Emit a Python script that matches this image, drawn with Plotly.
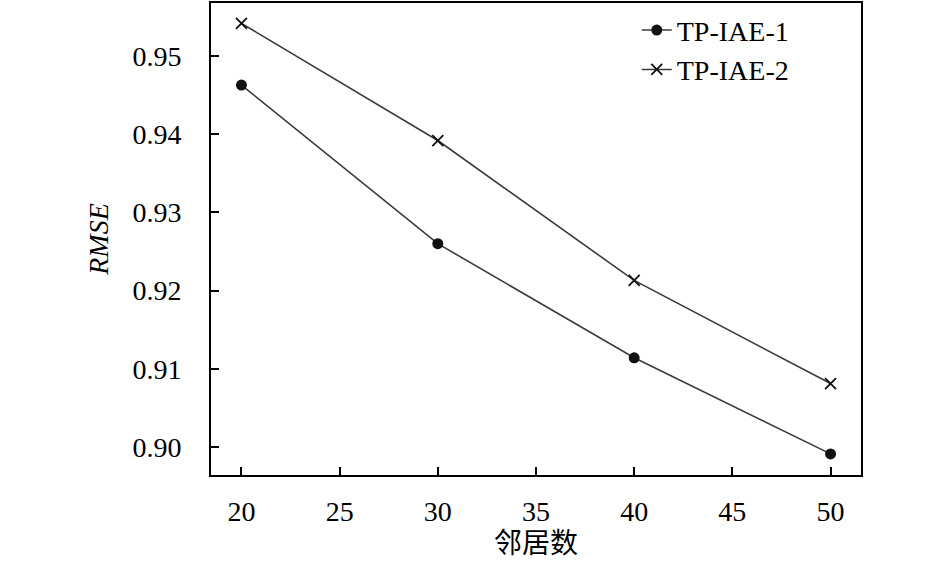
import plotly.graph_objects as go

# neighbour counts and RMSE values
neighbors = [20, 30, 40, 50]
rmse_iae1 = [0.9463, 0.9260, 0.9114, 0.8991]
rmse_iae2 = [0.9542, 0.9392, 0.9213, 0.9081]

x_ticks = [20, 25, 30, 35, 40, 45, 50]
y_ticks = [0.90, 0.91, 0.92, 0.93, 0.94, 0.95]
y_labels = ["0.90", "0.91", "0.92", "0.93", "0.94", "0.95"]

SERIF = "Liberation Serif, Tinos, DejaVu Serif"
LINE = "#3a3a44"

fig = go.Figure()

fig.add_trace(go.Scatter(
    x=neighbors, y=rmse_iae1,
    mode="lines+markers",
    name="TP-IAE-1",
    line=dict(color=LINE, width=1.6),
    marker=dict(symbol="circle", size=11, color="#111111"),
))

fig.add_trace(go.Scatter(
    x=neighbors, y=rmse_iae2,
    mode="lines+markers",
    name="TP-IAE-2",
    line=dict(color=LINE, width=1.6),
    marker=dict(symbol="x-thin", size=11, color="#111111",
                line=dict(color="#111111", width=1.8)),
))

axis_common = dict(
    showgrid=False,
    zeroline=False,
    showline=True,
    linecolor="black",
    linewidth=2,
    mirror=True,
    ticks="inside",
    ticklen=8,
    tickwidth=1.5,
    tickcolor="black",
    automargin=False,
    tickfont=dict(family=SERIF, size=28, color="black"),
)

fig.update_xaxes(
    range=[18.45, 51.55],
    tickvals=x_ticks,
    ticklabelstandoff=10,
    title=dict(text="邻居数",
               font=dict(family=SERIF + ", Noto Sans CJK SC", size=28, color="black"),
               standoff=8),
    **axis_common,
)

fig.update_yaxes(
    range=[0.8964, 0.9568],
    tickvals=y_ticks,
    ticktext=y_labels,
    ticklabelstandoff=22,
    title=dict(text="<i>RMSE</i>", font=dict(family=SERIF, size=28, color="black"),
               standoff=16),
    **axis_common,
)

fig.update_layout(
    width=945,
    height=566,
    margin=dict(l=211, r=84, t=3, b=91),
    paper_bgcolor="white",
    plot_bgcolor="white",
    showlegend=True,
    legend=dict(
        x=0.655, y=0.995,
        xanchor="left", yanchor="top",
        bgcolor="rgba(0,0,0,0)",
        font=dict(family=SERIF, size=28, color="black"),
        tracegroupgap=0,
    ),
)

fig.write_html("out.html", config={"displayModeBar": False},
               post_script="document.body.style.margin='0';")
